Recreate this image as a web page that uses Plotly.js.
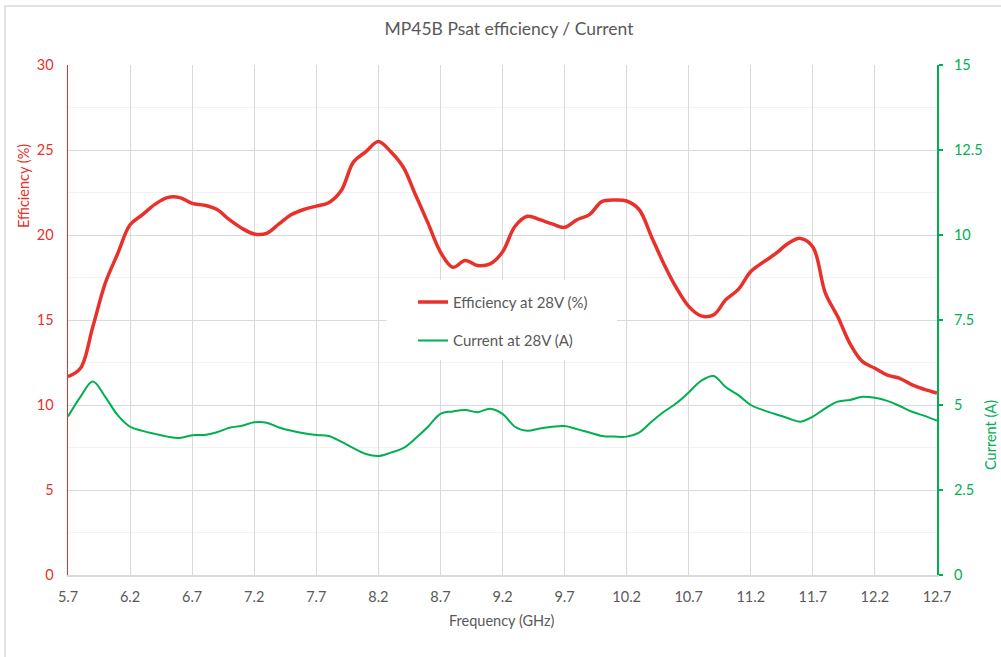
<!DOCTYPE html>
<html>
<head>
<meta charset="utf-8">
<script src="https://cdn.plot.ly/plotly-3.0.1.min.js"></script>
<style>
  html, body { margin: 0; padding: 0; background: #ffffff; }
  #chart { width: 1001px; height: 657px; }
</style>
</head>
<body>
<div id="chart"></div>
<script>
const chartTitle = 'MP45B Psat efficiency / Current';
const xTitle = 'Frequency (GHz)';
const yLeftTitle = 'Efficiency (%)';
const yRightTitle = 'Current (A)';
const effName = 'Efficiency at 28V (%)';
const curName = 'Current at 28V (A)';

const freq = [5.7,5.8,5.9,6.0,6.1,6.2,6.3,6.4,6.5,6.6,
              6.7,6.8,6.9,7.0,7.1,7.2,7.3,7.4,7.5,7.6,
              7.7,7.8,7.9,8.0,8.1,8.2,8.3,8.4,8.5,8.6,
              8.7,8.8,8.9,9.0,9.1,9.2,9.3,9.4,9.5,9.6,
              9.7,9.8,9.9,10.0,10.1,10.2,10.3,10.4,10.5,10.6,
              10.7,10.8,10.9,11.0,11.1,11.2,11.3,11.4,11.5,11.6,
              11.7,11.8,11.9,12.0,12.1,12.2,12.3,12.4,12.5,12.6,
              12.7];

const efficiency = [11.67,12.16,14.6,17.16,18.9,20.6,21.2,21.8,22.2,22.2,
                    21.86,21.75,21.5,20.9,20.4,20.06,20.1,20.65,21.2,21.5,
                    21.7,21.9,22.6,24.3,24.9,25.5,24.9,24.0,22.35,20.7,
                    19.0,18.1,18.5,18.2,18.3,19.0,20.5,21.1,20.9,20.65,
                    20.45,20.9,21.2,21.96,22.06,22.0,21.5,19.9,18.3,16.9,
                    15.8,15.24,15.3,16.2,16.8,17.85,18.4,18.9,19.5,19.8,
                    19.3,16.6,15.2,13.6,12.55,12.16,11.76,11.57,11.18,10.92,
                    10.7];

const current = [4.66,5.24,5.69,5.24,4.7,4.36,4.24,4.15,4.07,4.03,
                 4.11,4.12,4.2,4.33,4.39,4.49,4.48,4.34,4.24,4.17,
                 4.12,4.09,3.92,3.73,3.56,3.5,3.6,3.73,4.02,4.36,
                 4.74,4.81,4.85,4.79,4.89,4.74,4.36,4.24,4.31,4.36,
                 4.38,4.29,4.19,4.09,4.07,4.07,4.19,4.51,4.8,5.05,
                 5.37,5.71,5.85,5.52,5.29,5.0,4.85,4.73,4.61,4.51,
                 4.66,4.9,5.1,5.15,5.24,5.21,5.12,4.97,4.8,4.68,
                 4.54];

const RED = '#e8312a';
const GREEN = '#00b050';
const GRAY = '#595959';
const FONT = 'Lato, "Open Sans", sans-serif';

const traces = [
  {
    x: freq, y: efficiency, name: effName, type: 'scatter', mode: 'lines',
    line: { color: RED, width: 3.5, shape: 'spline', smoothing: 1.0 },
    yaxis: 'y', legendgroup: 'a'
  },
  {
    x: freq, y: current, name: curName, type: 'scatter', mode: 'lines',
    line: { color: GREEN, width: 2, shape: 'spline', smoothing: 1.0 },
    yaxis: 'y2', legendgroup: 'b'
  }
];

const layout = {
  width: 1001, height: 657,
  margin: { l: 68, r: 64, t: 65, b: 82, pad: 0 },
  paper_bgcolor: '#ffffff', plot_bgcolor: '#ffffff',
  font: { family: FONT, size: 14, color: GRAY },
  title: {
    text: chartTitle, font: { family: FONT, size: 17.5, color: GRAY },
    xref: 'paper', x: 0.5075, xanchor: 'center',
    yref: 'container', y: 0.956, yanchor: 'middle'
  },
  showlegend: true,
  legend: {
    x: 0.397, xanchor: 'left', y: 0.567, yanchor: 'top',
    bgcolor: 'rgba(0,0,0,0)', borderwidth: 0,
    font: { family: FONT, size: 15, color: GRAY },
    traceorder: 'grouped', tracegroupgap: 16, itemwidth: 30
  },
  xaxis: {
    range: [5.7, 12.7], tick0: 5.7, dtick: 0.5, tickformat: '.1f',
    showgrid: true, gridcolor: '#d9d9d9', gridwidth: 1,
    showline: true, linecolor: '#d9d9d9', linewidth: 1.5,
    zeroline: false, ticks: '', ticklabelstandoff: 8,
    tickfont: { family: FONT, size: 14.5, color: GRAY }
  },
  yaxis: {
    range: [0, 30], dtick: 5, tick0: 0,
    showgrid: true, gridcolor: '#d9d9d9', gridwidth: 1,
    minor: { dtick: 2.5, showgrid: true, gridcolor: '#f2f2f2', gridwidth: 1 },
    showline: true, linecolor: RED, linewidth: 1.5,
    zeroline: false, ticks: '', ticklabelstandoff: 10,
    tickfont: { family: FONT, size: 14.5, color: RED }
  },
  yaxis2: {
    range: [0, 15], dtick: 2.5, tick0: 0,
    overlaying: 'y', side: 'right',
    showgrid: false, zeroline: false,
    showline: true, linecolor: GREEN, linewidth: 2,
    ticks: 'outside', ticklen: 4, tickwidth: 2, tickcolor: GREEN,
    ticklabelstandoff: 8,
    tickfont: { family: FONT, size: 14.5, color: GREEN }
  },
  shapes: [
    { type: 'rect', xref: 'paper', yref: 'paper',
      x0: (387 - 68) / 869, x1: (617 - 68) / 869,
      y0: (575 - 360) / 510, y1: (575 - 280) / 510,
      fillcolor: '#ffffff', line: { width: 0 }, layer: 'above' },
    { type: 'rect', xref: 'paper', yref: 'paper',
      x0: (5 - 68) / 869, x1: 1.2,
      y0: -0.3, y1: (575 - 6) / 510,
      fillcolor: 'rgba(0,0,0,0)', line: { color: '#d9d9d9', width: 1.5 }, layer: 'below' }
  ],
  annotations: [
    { text: xTitle, xref: 'paper', yref: 'paper', x: (502 - 68) / 869, y: (575 - 620) / 510,
      xanchor: 'center', yanchor: 'middle', showarrow: false,
      font: { family: FONT, size: 14.5, color: GRAY } },
    { text: yLeftTitle, xref: 'paper', yref: 'paper', x: (23 - 68) / 869, y: (575 - 186) / 510,
      xanchor: 'center', yanchor: 'middle', showarrow: false, textangle: -90,
      font: { family: FONT, size: 14.5, color: RED } },
    { text: yRightTitle, xref: 'paper', yref: 'paper', x: (990 - 68) / 869, y: (575 - 435) / 510,
      xanchor: 'center', yanchor: 'middle', showarrow: false, textangle: -90,
      font: { family: FONT, size: 14.5, color: GREEN } }
  ]
};

Plotly.newPlot('chart', traces, layout, { staticPlot: true, displayModeBar: false });
</script>
</body>
</html>
